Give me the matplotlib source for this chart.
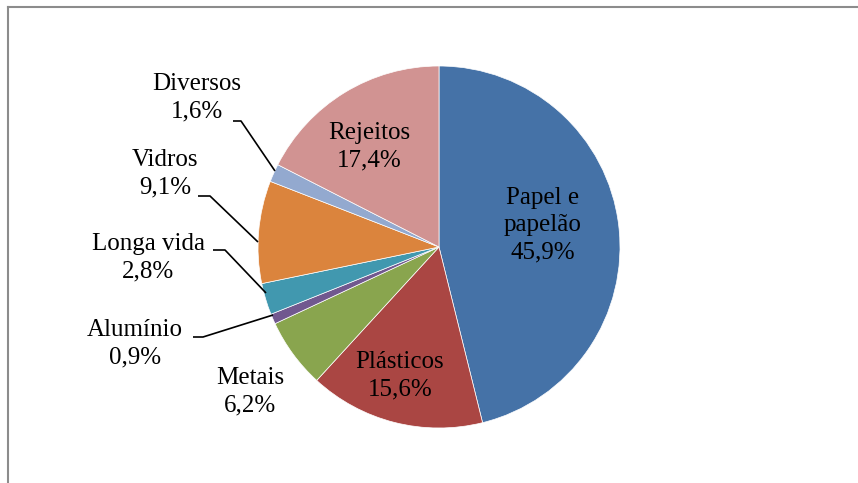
import matplotlib.pyplot as plt
from matplotlib.lines import Line2D

# data
categorias = ["Papel e\npapelão", "Plásticos", "Metais", "Alumínio",
              "Longa vida", "Vidros", "Diversos", "Rejeitos"]
percentuais = [45.9, 15.6, 6.2, 0.9, 2.8, 9.1, 1.6, 17.4]
cores = ["#4572A7", "#AA4643", "#89A54E", "#71588F",
         "#4198AF", "#DB843D", "#93A9CF", "#D19392"]

W, H = 858, 483
cx, cy, r = 439, H - 247, 181

# label centres (pixels, y from top)
pos_rotulos = [(543, 225), (400, 376), (250, 392), (135, 344),
               (148, 258), (165, 174), (197, 98), (369, 147)]
# leader lines for the small outside labels: index -> list of points
guias = {
    3: [(193, 337), (203, 337), (273, 315)],
    4: [(213, 250), (225, 250), (266, 293)],
    5: [(198, 196), (210, 196), (258, 242)],
    6: [(233, 121), (241, 121), (275, 171)],
}

plt.rcParams['font.family'] = ['Liberation Serif', 'DejaVu Serif']

fig = plt.figure(figsize=(W / 100, H / 100), dpi=100)
ax = fig.add_axes([0, 0, 1, 1])

ax.pie(percentuais, colors=cores, startangle=90, counterclock=False,
       center=(cx, cy), radius=r, frame=True,
       wedgeprops=dict(edgecolor='white', linewidth=0.5))
ax.set_xlim(0, W)
ax.set_ylim(0, H)
ax.set_aspect('equal')
ax.axis('off')

for i, (nome, p) in enumerate(zip(categorias, percentuais)):
    x, y = pos_rotulos[i]
    txt = nome + "\n" + ("%.1f%%" % p).replace(".", ",")
    ax.text(x, H - y, txt, ha='center', va='center', fontsize=18,
            linespacing=1.3, color='black')

for i, pts in guias.items():
    xs = [p[0] for p in pts]
    ys = [H - p[1] for p in pts]
    ax.plot(xs, ys, color='black', lw=1.2, solid_capstyle='butt')

# chart frame (only top and left edges visible)
fig.add_artist(Line2D([8 / W, 1], [1 - 6.5 / H, 1 - 6.5 / H],
                      transform=fig.transFigure, color='#8c8c8c', lw=1.5))
fig.add_artist(Line2D([8 / W, 8 / W], [0, 1 - 6.5 / H],
                      transform=fig.transFigure, color='#8c8c8c', lw=1.5))

fig.savefig("out.png", dpi=100, facecolor='white')
